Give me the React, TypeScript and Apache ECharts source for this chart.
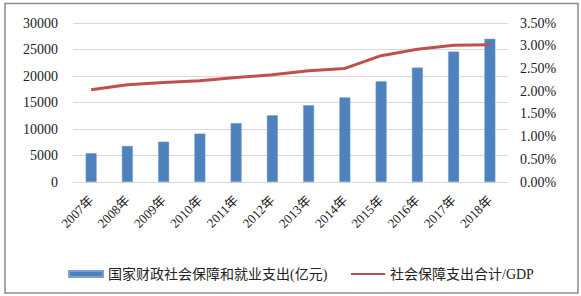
import React, { useEffect, useRef } from "react";
import * as echarts from "echarts";

const years = ["2007年", "2008年", "2009年", "2010年", "2011年", "2012年", "2013年", "2014年", "2015年", "2016年", "2017年", "2018年"];
const spending = [5447, 6804, 7607, 9131, 11109, 12586, 14491, 15969, 19019, 21591, 24612, 27012];
const ratio = [2.03, 2.14, 2.19, 2.23, 2.3, 2.36, 2.45, 2.5, 2.78, 2.92, 3.01, 3.02];
const barName = "国家财政社会保障和就业支出(亿元)";
const lineName = "社会保障支出合计/GDP";

const serif = "'Liberation Serif', 'Times New Roman', 'Noto Sans CJK SC', serif";

export default function App() {
  const ref = useRef<HTMLDivElement>(null);
  useEffect(() => {
    if (!ref.current) return;
    const chart = echarts.init(ref.current, null, { renderer: "svg" });
    chart.setOption({
      animation: false,
      backgroundColor: "#fff",
      graphic: [
        {
          type: "rect",
          shape: { x: 5, y: 3.5, width: 573, height: 289.5 },
          style: { fill: "none", stroke: "#8c8c8c", lineWidth: 1.5 },
          silent: true,
        },
      ],
      grid: { left: 73, right: 73, top: 23, bottom: 114 },
      legend: [
        {
          data: [barName],
          left: 63,
          top: 262,
          itemWidth: 34,
          itemHeight: 6,
          itemGap: 5,
          icon: "rect",
          textStyle: { fontFamily: serif, fontSize: 14, color: "#222" },
        },
        {
          data: [lineName],
          left: 346,
          top: 262,
          itemWidth: 34,
          itemHeight: 2,
          itemGap: 5,
          icon: "rect",
          textStyle: { fontFamily: serif, fontSize: 14, color: "#222" },
        },
      ],
      xAxis: {
        type: "category",
        data: years,
        axisLine: { show: true, lineStyle: { color: "#d9d9d9" } },
        axisTick: { show: false },
        axisLabel: {
          rotate: 45,
          interval: 0,
          margin: 16,
          fontFamily: serif,
          fontSize: 13,
          color: "#222",
        },
      },
      yAxis: [
        {
          type: "value",
          min: 0,
          max: 30000,
          interval: 5000,
          axisLine: { show: false },
          axisTick: { show: false },
          splitLine: { lineStyle: { color: "#d9d9d9" } },
          axisLabel: {
            fontFamily: serif,
            fontSize: 14,
            color: "#222",
            margin: 15,
            formatter: (v: number) => String(v),
          },
        },
        {
          type: "value",
          min: 0,
          max: 3.5,
          interval: 0.5,
          axisLine: { show: false },
          axisTick: { show: false },
          splitLine: { show: false },
          axisLabel: {
            fontFamily: serif,
            fontSize: 14,
            color: "#222",
            margin: 12,
            formatter: (v: number) => v.toFixed(2) + "%",
          },
        },
      ],
      series: [
        {
          name: barName,
          type: "bar",
          data: spending,
          barWidth: 11,
          itemStyle: { color: "#4F81BD", borderColor: "#7aa0d0", borderWidth: 0.5 },
        },
        {
          name: lineName,
          type: "line",
          yAxisIndex: 1,
          data: ratio,
          symbol: "none",
          lineStyle: { color: "#C0504D", width: 3 },
          itemStyle: { color: "#C0504D" },
        },
      ],
    });
    return () => chart.dispose();
  }, []);
  return <div ref={ref} style={{ width: 581, height: 296, position: "absolute", left: 0, top: 0 }} />;
}
